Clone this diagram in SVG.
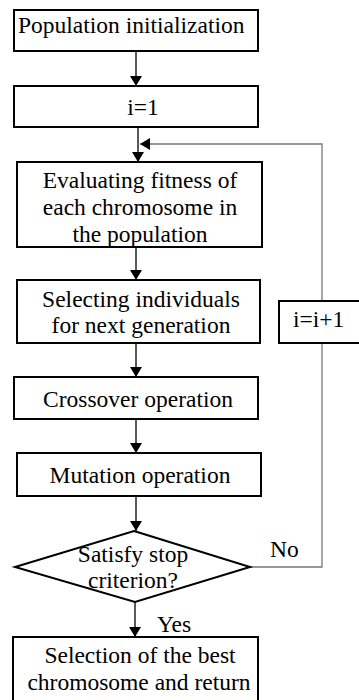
<svg xmlns="http://www.w3.org/2000/svg" width="359" height="700" viewBox="0 0 359 700">
<defs>
<marker id="ah" viewBox="0 0 10 12" refX="10" refY="6" markerWidth="10" markerHeight="12" markerUnits="userSpaceOnUse" orient="auto">
<path d="M0,0 L10,6 L0,12 Z" fill="#000"/>
</marker>
</defs>
<rect width="359" height="700" fill="#fff"/>
<g id="connectors" fill="none" stroke="#222" stroke-width="1.5">
<line x1="136" y1="52" x2="136" y2="86" marker-end="url(#ah)"/>
<line x1="138" y1="127" x2="138" y2="162" marker-end="url(#ah)"/>
<line x1="136" y1="247" x2="136" y2="280" marker-end="url(#ah)"/>
<line x1="136" y1="343" x2="136" y2="377" marker-end="url(#ah)"/>
<line x1="136" y1="419" x2="136" y2="453" marker-end="url(#ah)"/>
<line x1="136" y1="496" x2="136" y2="531" marker-end="url(#ah)"/>
<line x1="135" y1="602" x2="135" y2="637" marker-end="url(#ah)"/>
<polyline points="250,567 322,567 322,144 140,144" stroke="#777" stroke-width="1.3" marker-end="url(#ah)"/>
</g>
<text x="270" y="557" font-family="Liberation Serif" font-size="23.5" fill="#000">No</text>
<text x="157" y="632" font-family="Liberation Serif" font-size="23.5" fill="#000">Yes</text>
<g id="n1"><rect x="14" y="10" width="244" height="41" fill="#fff" stroke="#000" stroke-width="2"/><text x="18" y="33" font-family="Liberation Serif" font-size="23.5" fill="#000">Population initialization</text></g>
<g id="n2"><rect x="14" y="86" width="244" height="41" fill="#fff" stroke="#000" stroke-width="2"/><text x="143" y="115" text-anchor="middle" font-family="Liberation Serif" font-size="23.5" fill="#000">i=1</text></g>
<g id="n3"><rect x="17" y="162" width="245" height="85" fill="#fff" stroke="#000" stroke-width="2"/>
<text x="140" y="188" text-anchor="middle" font-family="Liberation Serif" font-size="23.5" fill="#000">Evaluating fitness of</text>
<text x="140" y="215" text-anchor="middle" font-family="Liberation Serif" font-size="23.5" fill="#000">each chromosome in</text>
<text x="140" y="242" text-anchor="middle" font-family="Liberation Serif" font-size="23.5" fill="#000">the population</text></g>
<g id="n4"><rect x="17" y="280" width="243" height="63" fill="#fff" stroke="#000" stroke-width="2"/>
<text x="141" y="307" text-anchor="middle" font-family="Liberation Serif" font-size="23.5" fill="#000">Selecting individuals</text>
<text x="141" y="333" text-anchor="middle" font-family="Liberation Serif" font-size="23.5" fill="#000">for next generation</text></g>
<g id="n5"><rect x="279" y="301" width="84" height="42" fill="#fff" stroke="#000" stroke-width="2"/><text x="293" y="327" font-family="Liberation Serif" font-size="23.5" fill="#000">i=i+1</text></g>
<g id="n6"><rect x="14" y="377" width="244" height="42" fill="#fff" stroke="#000" stroke-width="2"/><text x="138" y="407" text-anchor="middle" font-family="Liberation Serif" font-size="23.5" fill="#000">Crossover operation</text></g>
<g id="n7"><rect x="17" y="453" width="244" height="43" fill="#fff" stroke="#000" stroke-width="2"/><text x="140" y="483" text-anchor="middle" font-family="Liberation Serif" font-size="23.5" fill="#000">Mutation operation</text></g>
<g id="n8"><polygon points="134,531 250,567 135,602 15,567" fill="#fff" stroke="#000" stroke-width="2"/>
<text x="133" y="562" text-anchor="middle" font-family="Liberation Serif" font-size="23.5" fill="#000">Satisfy stop</text>
<text x="133" y="588" text-anchor="middle" font-family="Liberation Serif" font-size="23.5" fill="#000">criterion?</text></g>
<g id="n9"><rect x="13" y="637" width="245" height="70" fill="#fff" stroke="#000" stroke-width="2"/>
<text x="140" y="663" text-anchor="middle" font-family="Liberation Serif" font-size="23.5" fill="#000">Selection of the best</text>
<text x="139" y="690" text-anchor="middle" font-family="Liberation Serif" font-size="23.5" fill="#000">chromosome and return</text></g>
</svg>
